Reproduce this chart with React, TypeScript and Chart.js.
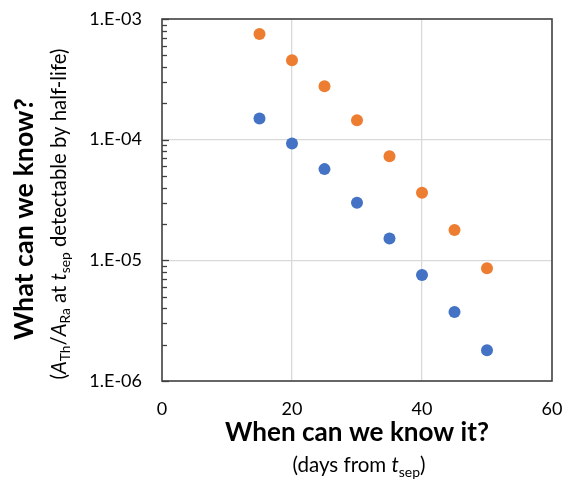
import React, { useEffect, useRef } from "react";
import { Chart, registerables } from "chart.js";

Chart.register(...registerables);

const xValues = [15, 20, 25, 30, 35, 40, 45, 50];
const blueSeries = [1.5e-4, 9.3e-5, 5.7e-5, 3.0e-5, 1.52e-5, 7.55e-6, 3.73e-6, 1.8e-6];
const orangeSeries = [7.5e-4, 4.55e-4, 2.77e-4, 1.45e-4, 7.3e-5, 3.63e-5, 1.78e-5, 8.6e-6];
const yTickValues = [1e-6, 1e-5, 1e-4, 1e-3];
const xTickValues = [0, 20, 40, 60];

const FONT = "Lato, 'Open Sans', sans-serif";

type Seg = { t: string; i?: boolean; sub?: boolean };

function richWidth(ctx: CanvasRenderingContext2D, segs: Seg[], size: number) {
  let total = 0;
  for (const s of segs) {
    ctx.font = `${s.i ? "italic " : ""}${s.sub ? size * 0.68 : size}px ${FONT}`;
    total += ctx.measureText(s.t).width;
  }
  return total;
}

function drawRichFit(ctx: CanvasRenderingContext2D, segs: Seg[], target: number, cx: number, baseY: number) {
  const w16 = richWidth(ctx, segs, 16);
  const size = (16 * target) / w16;
  const total = richWidth(ctx, segs, size);
  let x = cx - total / 2;
  ctx.textAlign = "left";
  ctx.textBaseline = "alphabetic";
  for (const s of segs) {
    ctx.font = `${s.i ? "italic " : ""}${s.sub ? size * 0.68 : size}px ${FONT}`;
    ctx.fillText(s.t, x, baseY + (s.sub ? size * 0.22 : 0));
    x += ctx.measureText(s.t).width;
  }
}

function drawBoldFit(ctx: CanvasRenderingContext2D, text: string, target: number, cx: number, baseY: number) {
  ctx.font = `bold 20px ${FONT}`;
  const size = (20 * target) / ctx.measureText(text).width;
  ctx.font = `bold ${size}px ${FONT}`;
  ctx.textAlign = "center";
  ctx.textBaseline = "alphabetic";
  ctx.fillText(text, cx, baseY);
}

const decorPlugin = {
  id: "decor",
  afterDraw(chart: any) {
    const ctx: CanvasRenderingContext2D = chart.ctx;
    const a = chart.chartArea;
    const ys = chart.scales.y;
    ctx.save();
    ctx.strokeStyle = "#404040";
    ctx.lineWidth = 1.3;
    for (let k = -6; k <= -3; k++) {
      for (let m = 1; m <= 9; m++) {
        if (k === -3 && m > 1) break;
        const v = m * Math.pow(10, k);
        const py = Math.round(ys.getPixelForValue(v)) + 0.5;
        ctx.beginPath();
        ctx.moveTo(a.left, py);
        ctx.lineTo(a.left + (m === 1 ? 7 : 5), py);
        ctx.stroke();
      }
    }
    ctx.strokeStyle = "#404040";
    ctx.lineWidth = 1.6;
    ctx.strokeRect(a.left, a.top, a.right - a.left, a.bottom - a.top);

    ctx.fillStyle = "#000";
    const cx = (a.left + a.right) / 2;
    drawBoldFit(ctx, "When can we know it?", 264, cx, 441);
    drawRichFit(ctx, [{ t: "(days from " }, { t: "t", i: true }, { t: "sep", sub: true }, { t: ")" }], 133, 359, 472);

    ctx.save();
    ctx.translate(33, 219);
    ctx.rotate(-Math.PI / 2);
    drawBoldFit(ctx, "What can we know?", 242, 0, 0);
    ctx.restore();

    ctx.save();
    ctx.translate(66, 214);
    ctx.rotate(-Math.PI / 2);
    drawRichFit(
      ctx,
      [
        { t: "(" },
        { t: "A", i: true },
        { t: "Th", sub: true },
        { t: "/" },
        { t: "A", i: true },
        { t: "Ra", sub: true },
        { t: " at " },
        { t: "t", i: true },
        { t: "sep", sub: true },
        { t: " detectable by half-life)" },
      ],
      331,
      0,
      0
    );
    ctx.restore();
    ctx.restore();
  },
};

function fmtExp(v: number) {
  const e = Math.round(Math.log10(v));
  return `1.E${e < 0 ? "-" : "+"}${String(Math.abs(e)).padStart(2, "0")}`;
}

export default function App() {
  const ref = useRef<HTMLCanvasElement>(null);
  useEffect(() => {
    if (!ref.current) return;
    const chart = new Chart(ref.current, {
      type: "scatter",
      data: {
        datasets: [
          {
            label: "Series 1",
            data: xValues.map((x, i) => ({ x, y: blueSeries[i] })),
            backgroundColor: "#4472C4",
            borderColor: "#4472C4",
            borderWidth: 0,
            pointRadius: 6,
          },
          {
            label: "Series 2",
            data: xValues.map((x, i) => ({ x, y: orangeSeries[i] })),
            backgroundColor: "#ED7D31",
            borderColor: "#ED7D31",
            borderWidth: 0,
            pointRadius: 6,
          },
        ],
      },
      options: {
        animation: false,
        responsive: true,
        maintainAspectRatio: false,
        layout: { padding: { left: 0, top: 19, right: 11, bottom: 0 } },
        plugins: { legend: { display: false }, tooltip: { enabled: false } },
        scales: {
          x: {
            type: "linear",
            min: 0,
            max: 60,
            afterBuildTicks: (s: any) => {
              s.ticks = xTickValues.map((v) => ({ value: v }));
            },
            afterFit: (s: any) => {
              s.height = 98;
              s.paddingLeft = 0;
              s.paddingRight = 0;
            },
            border: { display: false },
            grid: {
              drawTicks: false,
              color: (c: any) => (c.tick && (c.tick.value === 0 || c.tick.value === 60) ? "rgba(0,0,0,0)" : "#d9d9d9"),
              lineWidth: 1.3,
            },
            ticks: { padding: 17, color: "#000", font: { family: FONT, size: 18 } },
          },
          y: {
            type: "logarithmic",
            min: 1e-6,
            max: 1e-3,
            afterBuildTicks: (s: any) => {
              s.ticks = yTickValues.map((v) => ({ value: v }));
            },
            afterFit: (s: any) => {
              s.width = 162;
              s.paddingTop = 0;
              s.paddingBottom = 0;
            },
            border: { display: false },
            grid: {
              drawTicks: false,
              color: (c: any) =>
                c.tick && (c.tick.value <= 1.0001e-6 || c.tick.value >= 0.9999e-3) ? "rgba(0,0,0,0)" : "#d9d9d9",
              lineWidth: 1.3,
            },
            ticks: {
              padding: 20,
              color: "#000",
              font: { family: FONT, size: 18 },
              callback: (v: any) => fmtExp(Number(v)),
            },
          },
        },
      },
      plugins: [decorPlugin],
    } as any);
    return () => chart.destroy();
  }, []);
  return (
    <div style={{ position: "absolute", left: 0, top: 0, width: 563, height: 479, background: "#fff" }}>
      <canvas ref={ref} />
    </div>
  );
}
